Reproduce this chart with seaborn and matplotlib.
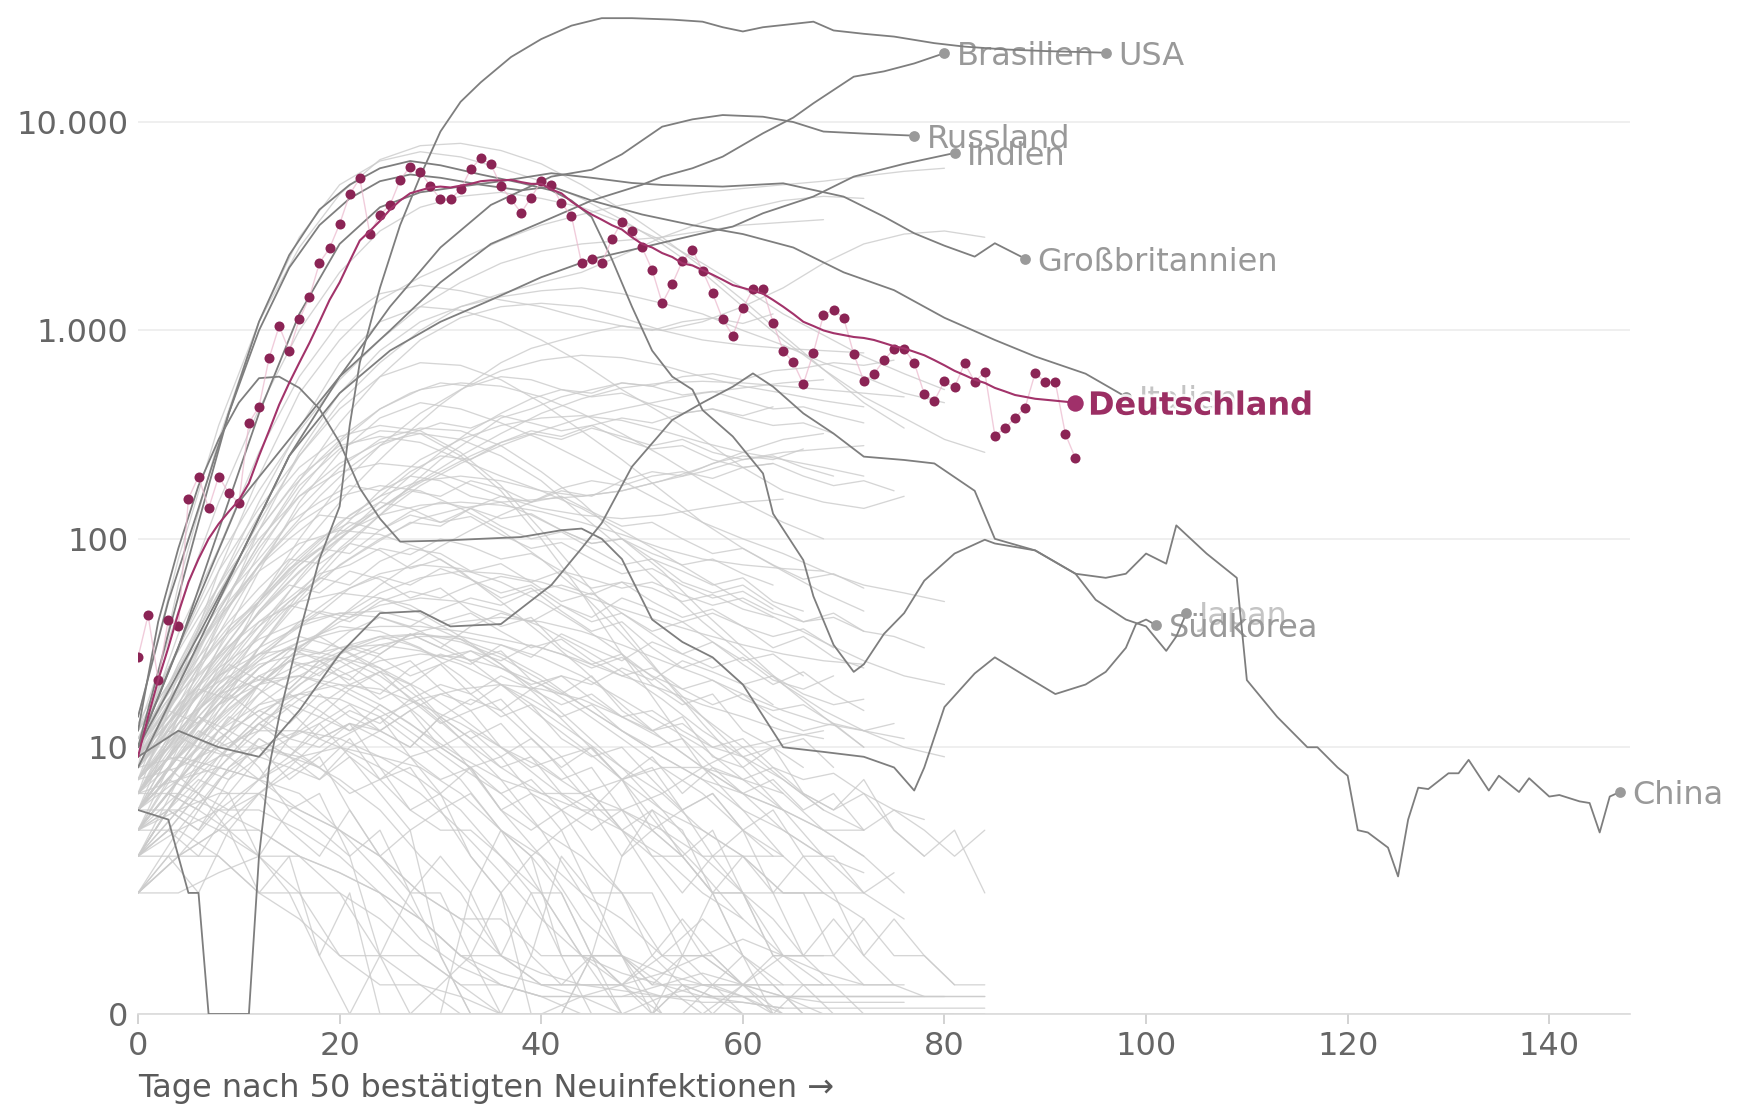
import pandas as pd
import matplotlib
matplotlib.use("Agg")
import matplotlib.pyplot as plt
import matplotlib.patheffects as pe
from matplotlib.ticker import NullLocator
import seaborn as sns

# ---------------------------------------------------------------
# Deutschland: tägliche Neuinfektionen und 7-Tage-Mittel
# ---------------------------------------------------------------
de_tage = list(range(0, 94))
de_taeglich = [27, 43, 21, 41, 38, 156, 199, 140, 199, 166,
               149, 360, 430, 735, 1050, 796, 1130, 1440, 2110, 2480,
               3240, 4500, 5370, 2900, 3580, 4000, 5270, 6110, 5780, 4930,
               4260, 4260, 4750, 5930, 6700, 6270, 4930, 4260, 3670, 4340,
               5200, 5000, 4075, 3540, 2100, 2190, 2100, 2735, 3325, 3010,
               2505, 1950, 1350, 1670, 2150, 2430, 1935, 1507, 1130, 944,
               1276, 1580, 1580, 1090, 800, 703, 553, 782, 1186, 1253,
               1150, 771, 572, 618, 721, 815, 815, 700, 495, 460,
               570, 533, 695, 568, 631, 313, 339, 381, 426, 625,
               564, 564, 318, 243]
de_mittel = [9, 14, 21, 30, 44, 62, 80, 100, 118, 135,
             153, 185, 250, 330, 440, 560, 700, 870, 1100, 1400,
             1700, 2150, 2700, 3000, 3350, 3800, 4200, 4550, 4700, 4850,
             4900, 4850, 4950, 5050, 5200, 5250, 5250, 5280, 5150, 5050,
             5050, 4750, 4550, 4150, 3850, 3600, 3400, 3200, 3050, 2800,
             2600, 2500, 2350, 2250, 2100, 2050, 1950, 1850, 1750, 1650,
             1600, 1550, 1500, 1400, 1300, 1200, 1100, 1050, 1000, 970,
             950, 930, 920, 900, 870, 840, 820, 790, 760, 720,
             680, 640, 610, 580, 560, 530, 510, 490, 480, 470,
             465, 460, 455, 450]

# ---------------------------------------------------------------
# Hervorgehobene Länder (7-Tage-Mittel)
# ---------------------------------------------------------------
usa_tage = [0, 3, 5, 6, 7, 11, 12, 13, 14, 16, 18, 20, 21, 22, 24, 26, 28, 30, 32,
            34, 37, 40, 43, 46, 49, 53, 56, 58, 60, 62, 64, 67, 69, 72, 75, 79, 82,
            86, 90, 93, 96]
usa_werte = [5, 4.5, 2, 2, 0, 0, 3, 8, 14, 35, 80, 143, 350, 700, 1600, 3200, 5500,
             9000, 12500, 15500, 20500, 25000, 29000, 31500, 31500, 31000, 30300,
             28500, 27200, 28500, 29200, 30300, 27500, 26500, 25700, 23900, 23000,
             22300, 21900, 21700, 21500]

bra_tage = [0, 5, 10, 15, 20, 25, 30, 35, 40, 45, 50, 52, 55, 58, 62, 65, 67, 71, 74, 77, 80]
bra_werte = [10, 40, 150, 300, 600, 1000, 1700, 2600, 3300, 4200, 5000, 5470, 6000,
             6820, 8830, 10500, 12300, 16500, 17500, 19100, 21400]

rus_tage = [0, 5, 10, 15, 20, 25, 30, 35, 41, 45, 48, 52, 55, 58, 62, 65, 68, 72, 77]
rus_werte = [10, 28, 80, 250, 600, 1300, 2500, 4000, 5470, 5900, 7000, 9500, 10300,
             10800, 10600, 10000, 9000, 8800, 8600]

ind_tage = [0, 5, 10, 15, 20, 25, 30, 35, 40, 45, 50, 56, 59, 62, 67, 71, 76, 81]
ind_werte = [8, 25, 80, 250, 500, 800, 1100, 1400, 1800, 2200, 2500, 2925, 3150,
             3650, 4390, 5470, 6300, 7100]

gbr_tage = [0, 4, 8, 12, 16, 20, 24, 28, 32, 36, 41, 45, 49, 52, 58, 64, 70, 74, 77,
            80, 83, 85, 88]
gbr_werte = [10, 30, 110, 400, 1200, 2600, 3900, 4600, 4900, 5200, 5680, 5400, 5100,
             4990, 4900, 5080, 4385, 3515, 2925, 2550, 2260, 2620, 2210]

ita_tage = [0, 3, 6, 9, 12, 15, 18, 21, 24, 27, 30, 34, 38, 41, 45, 50, 55, 60, 65,
            70, 75, 80, 85, 89, 94, 98]
ita_werte = [14, 50, 140, 400, 1000, 2000, 3200, 4300, 5200, 5600, 5400, 5000, 4700,
             4900, 4200, 3600, 3200, 2900, 2500, 1900, 1560, 1150, 900, 750, 620, 480]

jpn_tage = [0, 3, 6, 9, 12, 15, 18, 21, 24, 27, 30, 34, 38, 41, 43, 45, 47, 49, 51,
            53, 55, 56, 59, 62, 63, 66, 67, 69, 71, 72, 74, 76, 78, 81, 84, 85, 89,
            93, 95, 98, 100, 102, 103, 104]
jpn_werte = [10, 35, 120, 400, 1100, 2300, 3800, 5000, 6000, 6500, 6200, 5600, 5100,
             4700, 4200, 3500, 2200, 1300, 800, 600, 520, 415, 310, 206, 132, 79, 53,
             31, 23, 25, 35, 44, 63, 85, 99, 95, 88, 68, 51, 41, 38, 29, 34, 44]

kor_tage = [0, 2, 4, 6, 8, 10, 12, 14, 16, 18, 20, 22, 24, 26, 30, 34, 38, 42, 44,
            46, 48, 51, 54, 57, 60, 64, 68, 72, 75, 77, 78, 80, 83, 85, 88, 91, 94,
            96, 98, 99, 100, 101]
kor_werte = [12, 40, 90, 180, 300, 450, 590, 600, 530, 420, 290, 175, 125, 97, 98,
             100, 102, 110, 112, 100, 80, 41, 32, 27, 20, 10, 9.5, 9, 8, 6.2, 8,
             15.6, 22.6, 27, 22, 18, 20, 23, 30, 39, 41, 38.5]

chn_tage = [0, 4, 8, 12, 16, 20, 24, 28, 31, 36, 41, 44, 46, 49, 53, 56, 59, 61, 63,
            66, 69, 72, 76, 79, 83, 85, 89, 93, 96, 98, 100, 102, 103, 106, 109, 110,
            113, 116, 117, 119, 120, 121, 122, 124, 125, 126, 127, 128, 130, 131,
            132, 134, 135, 137, 138, 140, 141, 143, 144, 145, 146, 147]
chn_werte = [9, 12, 10, 9, 15, 28, 44, 45, 38, 39, 60, 90, 119, 222, 372, 450, 537,
             622, 537, 400, 320, 248, 239, 230, 170, 100, 88, 68, 65, 68, 85, 76,
             116, 85, 65, 21, 14, 10, 10, 8, 7.3, 4, 3.9, 3.3, 2.4, 4.5, 6.4, 6.3,
             7.5, 7.5, 8.7, 6.2, 7.3, 6.1, 7.1, 5.8, 5.9, 5.5, 5.4, 3.9, 5.8, 6.1]

# ---------------------------------------------------------------
# Übrige Länder (grau)
# ---------------------------------------------------------------
# Werte alle vier Tage
hg_tage = list(range(0, 89, 4))

grau_hoch = [
    [8, 60, 300, 1100, 2800, 5000, 6500, 7200, 6800, 6000, 5200, 4300, 3400, 2600, 1900, 1300, 900, 650, 480, 380, 300, 260],
    [12, 45, 150, 420, 1000, 1900, 3000, 3900, 4400, 4600, 4300, 3900, 3300, 2700, 2100, 1600, 1200, 950, 750, 620, 520],
    [6, 20, 70, 200, 500, 900, 1400, 1800, 2200, 2700, 3200, 3600, 4000, 4300, 4600, 4800, 5000, 5200, 5500, 5800, 6000],
    [9, 25, 55, 120, 250, 450, 700, 1000, 1300, 1500, 1700, 1900, 2300, 2800, 3300, 3800, 4200, 4400, 4300],
    [10, 35, 90, 260, 600, 1100, 1500, 1650, 1550, 1400, 1300, 1150, 1050, 1000, 1100, 1300, 1600, 2100, 2600, 2900, 3000, 2800],
    [7, 22, 60, 150, 340, 700, 1100, 1300, 1250, 1100, 900, 700, 520, 400, 300, 220, 170, 150, 140, 160],
    [5, 14, 40, 110, 260, 500, 800, 1100, 1300, 1450, 1550, 1600, 1500, 1350, 1200, 1000, 850, 700, 600, 500, 450],
    [11, 30, 80, 170, 330, 580, 900, 1300, 1700, 2100, 2400, 2600, 2700, 2800, 3000, 3200, 3300, 3400],
    [8, 18, 45, 95, 190, 360, 600, 900, 1150, 1300, 1350, 1300, 1150, 1000, 900, 850, 820, 800, 780],
    [14, 80, 350, 1100, 2500, 4500, 6600, 7700, 7900, 7300, 6300, 5000, 3800, 2800, 2000, 1400, 950, 650, 450, 340],
]

grau_mittel = [
    [6, 12, 30, 70, 150, 260, 380, 450, 420, 360, 300, 240, 190, 150, 120, 100, 85, 70, 60, 55, 50],
    [9, 20, 45, 90, 160, 230, 290, 320, 300, 250, 190, 130, 90, 60, 40, 28, 20, 15, 12, 10, 9],
    [4, 10, 22, 50, 100, 180, 280, 400, 520, 640, 720, 760, 740, 680, 600, 540, 500, 460, 430],
    [7, 15, 35, 75, 140, 220, 300, 340, 330, 280, 210, 150, 100, 70, 45, 30, 20, 14, 10],
    [10, 25, 60, 130, 220, 310, 350, 330, 260, 180, 110, 65, 38, 22, 13, 8, 5, 3, 2, 1.5],
    [5, 9, 18, 35, 65, 110, 170, 240, 300, 350, 380, 390, 370, 330, 290, 260, 240, 220, 200],
    [8, 20, 50, 110, 200, 280, 310, 290, 240, 200, 170, 160, 170, 190, 220, 260, 300, 320],
    [6, 14, 28, 50, 80, 120, 160, 190, 200, 190, 170, 140, 110, 85, 65, 50, 40, 32, 26, 22, 20],
    [12, 30, 70, 140, 250, 420, 600, 700, 680, 580, 450, 330, 240, 170, 120, 90, 70, 55, 45],
    [3, 7, 15, 30, 55, 90, 130, 180, 230, 280, 330, 380, 420, 460, 500, 530, 560, 580],
    [9, 18, 40, 75, 120, 160, 180, 170, 140, 110, 80, 55, 35, 22, 14, 9, 6, 4, 3],
    [5, 11, 24, 45, 75, 105, 130, 145, 150, 145, 135, 120, 105, 90, 80, 75, 72, 70],
    [7, 16, 38, 85, 170, 290, 420, 520, 560, 540, 480, 400, 320, 250, 190, 150, 120, 100],
    [11, 22, 42, 70, 95, 110, 105, 90, 70, 50, 35, 24, 16, 11, 8, 6, 5, 4, 4],
    [4, 8, 16, 30, 50, 75, 100, 125, 140, 150, 155, 160, 170, 190, 210, 240, 260, 270, 280],
    [8, 19, 45, 95, 180, 270, 330, 320, 250, 170, 100, 55, 28, 15, 8, 5, 3, 2],
    [6, 13, 25, 45, 70, 100, 140, 190, 250, 320, 400, 470, 530, 560, 570, 560, 540, 520, 500, 480],
    [10, 24, 55, 100, 160, 210, 230, 220, 190, 160, 140, 130, 125, 130, 140, 150, 155],
]

grau_niedrig = [
    [5, 9, 15, 24, 32, 38, 36, 30, 22, 15, 10, 6, 4, 2, 1, 0.5, 0.3, 0, 0],
    [7, 12, 20, 28, 34, 30, 24, 17, 11, 7, 4, 2, 1, 0, 0, 0.5, 1, 0.5],
    [3, 6, 10, 16, 22, 28, 33, 35, 33, 28, 22, 16, 12, 9, 7, 5, 4, 3, 2.5],
    [8, 14, 22, 30, 38, 44, 45, 40, 33, 25, 18, 12, 8, 5, 3, 2, 1, 1],
    [4, 7, 11, 15, 18, 20, 19, 16, 13, 10, 8, 6, 5, 4, 3, 3, 2, 2, 2],
    [6, 10, 17, 26, 40, 55, 68, 75, 72, 62, 50, 38, 28, 20, 14, 10, 7, 5],
    [2, 4, 7, 10, 12, 11, 9, 7, 5, 3, 2, 1, 0.5, 0, 0, 0, 0],
    [9, 15, 22, 28, 30, 27, 22, 16, 11, 8, 6, 5, 5, 6, 8, 10, 11, 12],
    [5, 8, 13, 20, 30, 42, 55, 65, 70, 68, 62, 54, 46, 40, 35, 31, 28, 26, 25],
    [3, 5, 8, 12, 17, 22, 26, 28, 27, 24, 20, 15, 11, 8, 6, 4, 3],
    [6, 11, 18, 25, 28, 26, 20, 14, 9, 5, 3, 1.5, 1, 0.5, 0, 0, 0],
    [4, 6, 9, 13, 18, 24, 30, 36, 40, 42, 40, 36, 31, 26, 22, 18, 15, 13, 12, 11],
    [10, 18, 28, 40, 50, 55, 52, 44, 34, 25, 17, 11, 7, 4, 2.5, 1.5, 1],
    [2, 3, 5, 7, 9, 10, 9, 8, 6, 4, 3, 2, 1.5, 1, 0.5, 0.5, 0],
    [7, 12, 19, 26, 32, 36, 38, 38, 36, 33, 30, 26, 22, 19, 16, 14, 12, 11],
    [5, 9, 14, 20, 25, 27, 24, 19, 14, 10, 7, 5, 4, 3, 2, 1.5],
    [3, 6, 12, 20, 30, 40, 48, 52, 50, 45, 38, 30, 23, 17, 12, 9, 7, 5, 4],
    [8, 13, 18, 21, 22, 19, 15, 11, 8, 6, 4, 3, 2, 1, 1, 0.5],
    [4, 7, 12, 18, 24, 30, 34, 35, 32, 27, 21, 16, 12, 9, 7, 6, 5],
    [6, 10, 16, 22, 27, 30, 31, 29, 25, 20, 15, 11, 8, 6, 4, 3, 2, 2, 1.5],
    [2, 3, 4, 6, 8, 11, 14, 17, 19, 20, 19, 17, 14, 11, 8, 6, 4, 3],
    [9, 16, 24, 33, 40, 44, 42, 36, 28, 20, 14, 10, 7, 5, 4, 3, 3],
    [5, 8, 12, 16, 18, 17, 14, 10, 7, 4, 2, 1, 0, 0, 0],
    [3, 5, 9, 14, 20, 26, 31, 34, 34, 31, 27, 22, 17, 13, 10, 7, 5, 4, 3, 2],
    [7, 11, 16, 20, 22, 20, 16, 12, 9, 7, 6, 6, 7, 8, 8, 7, 6],
]

grau_minimal = [
    [3, 4, 3, 2, 1.5, 1, 0.5, 0.5, 0.3, 0, 0, 0, 0, 0.3, 0.5, 0.3, 0],
    [5, 5, 4, 3, 2, 2, 1, 1, 0.5, 0.5, 0.3, 0.3, 0, 0],
    [2, 3, 4, 4, 3, 2.5, 2, 1.5, 1, 1, 0.5, 0.5, 0.5, 0.3, 0.3, 0.3, 0.3, 0.3, 0.3, 0.3, 0.3, 0.3],
    [6, 6, 5, 4, 3, 2, 1.5, 1, 0.5, 0, 0, 0.3, 0.5, 1, 1.5, 1, 0.5],
    [4, 5, 6, 6, 5, 4, 3, 2, 1.5, 1, 0.7, 0.5, 0.4, 0.3, 0.2, 0.2, 0.1, 0.1, 0.1, 0.1, 0.1, 0.1],
    [5, 7, 8, 7, 6, 4, 2.5, 1.5, 1, 0.5, 0.3, 0, 0],
    [3, 3, 3, 2, 2, 1, 1, 0.5, 0, 0, 0, 0, 0, 0, 0, 0, 0, 0, 0, 0, 0],
    [8, 9, 8, 7, 5, 4, 3, 2, 1.5, 1.5, 1, 1, 1, 0.7, 0.5, 0.5, 0.5, 0.5, 0.5, 0.5],
    [2, 2, 2.5, 3, 3, 2.5, 2, 1.5, 1, 0.7, 0.5, 0.5, 0.5, 0.7, 1, 1.2, 1, 0.7, 0.5],
    [6, 7, 9, 10, 9, 7, 5, 3, 2, 1, 0.5, 0.3, 0.3, 0.5, 0.7, 0.5, 0.3, 0.2, 0.2, 0.2],
    [4, 4, 5, 5, 4, 3, 2, 1.2, 0.8, 0.5, 0.3, 0.3, 0.3, 0.3, 0.3, 0.3, 0.3, 0.3, 0.3, 0.3, 0.3],
    [7, 8, 10, 12, 12, 10, 8, 6, 4, 2.5, 1.5, 1, 0.7, 0.5, 0.3, 0.2, 0.1],
]

# Werte alle drei Tage
hg_tage3 = list(range(0, 88, 3))

grau_zackig = [
    [6, 9, 14, 12, 20, 26, 22, 31, 28, 35, 30, 26, 29, 21, 18, 22, 15, 12, 14, 9, 8, 10, 6, 5, 7, 4, 3, 4, 2],
    [10, 16, 25, 38, 50, 72, 90, 85, 110, 130, 120, 140, 115, 100, 108, 90, 75, 80, 62, 55, 60, 48, 40, 44, 36],
    [4, 5, 8, 7, 11, 9, 13, 16, 12, 10, 14, 11, 8, 9, 6, 5, 7, 4, 3, 4, 2, 2, 1, 1.5, 1, 0.5],
    [8, 13, 21, 35, 48, 70, 95, 130, 160, 210, 250, 240, 290, 320, 300, 340, 310, 280, 300, 260, 240, 250, 220, 200],
    [5, 7, 6, 10, 13, 11, 16, 20, 18, 24, 28, 25, 31, 27, 35, 30, 26, 32, 28, 24, 27, 21, 19, 22],
    [12, 20, 34, 55, 80, 120, 150, 180, 170, 200, 190, 160, 150, 130, 110, 95, 100, 80, 70, 60, 65, 50, 45],
    [3, 4, 3, 5, 6, 4, 3, 5, 3, 2, 3, 2, 1, 2, 1, 1, 0.5, 1, 0.5, 0, 0.5, 0, 0, 0, 0],
    [7, 11, 18, 26, 40, 52, 68, 75, 90, 84, 100, 92, 80, 85, 70, 58, 62, 50, 42, 46, 38, 30, 34, 27, 24],
    [9, 14, 22, 30, 44, 60, 55, 70, 64, 52, 58, 45, 38, 42, 30, 25, 28, 20, 16, 18, 12, 10, 11, 8],
    [5, 8, 13, 20, 30, 46, 66, 95, 130, 180, 240, 300, 380, 420, 480, 520, 560, 540, 600, 620, 580, 640, 660, 700, 680, 720],
    [6, 9, 8, 12, 15, 13, 18, 14, 12, 15, 10, 8, 9, 6, 5, 6, 4, 3, 3, 2, 2, 1, 1, 0.5],
    [11, 18, 30, 48, 75, 110, 160, 220, 280, 320, 360, 340, 390, 360, 330, 350, 300, 270, 280, 240, 220, 230, 200, 180, 190, 170],
    [4, 6, 9, 14, 12, 18, 24, 21, 28, 35, 30, 38, 44, 40, 48, 42, 52, 46, 40, 44, 38, 34, 37, 30],
    [8, 12, 10, 16, 22, 19, 26, 30, 27, 22, 25, 18, 14, 16, 11, 9, 10, 7, 5, 6, 4, 3],
    [2, 3, 5, 4, 6, 8, 7, 10, 12, 10, 14, 17, 15, 19, 22, 20, 24, 21, 26, 23, 20, 22, 18, 16, 17],
    [7, 10, 16, 24, 35, 50, 65, 60, 78, 90, 85, 70, 76, 62, 50, 55, 44, 36, 40, 32, 26, 28, 22],
    [5, 8, 12, 10, 14, 18, 15, 12, 14, 9, 7, 8, 5, 4, 5, 3, 2, 2, 1, 1, 0.5, 0.5, 0, 0, 0, 0, 0, 0, 0],
    [13, 24, 42, 70, 110, 170, 240, 330, 420, 500, 560, 540, 600, 580, 520, 480, 500, 440, 400, 420, 380, 350, 360, 320],
    [6, 9, 13, 18, 24, 30, 28, 36, 42, 38, 46, 52, 48, 56, 60, 54, 62, 58, 50, 54, 46, 42],
    [4, 5, 7, 6, 9, 11, 10, 13, 11, 9, 10, 8, 6, 7, 5, 4, 5, 3, 2, 3, 2, 1.5, 1, 1, 0.5, 0.5, 0.3],
    [9, 15, 24, 36, 52, 75, 100, 120, 110, 135, 150, 140, 125, 132, 110, 95, 100, 85, 75, 80, 68, 60],
    [3, 5, 8, 12, 18, 26, 35, 46, 60, 75, 92, 110, 130, 150, 170, 160, 190, 210, 200, 230, 250, 240, 270],
    [8, 13, 19, 17, 24, 30, 26, 20, 23, 17, 13, 15, 10, 8, 9, 6, 4, 5, 3, 2, 2, 1, 1],
    [6, 10, 16, 25, 38, 56, 80, 110, 150, 200, 260, 330, 400, 470, 520, 500, 560, 540, 490, 510, 460, 420, 430, 390, 360],
    [5, 7, 10, 9, 13, 16, 14, 19, 23, 20, 25, 29, 26, 31, 28, 24, 27, 22, 19, 21, 17, 15, 16, 13, 12, 13],
    [10, 17, 27, 40, 58, 80, 76, 95, 88, 72, 80, 64, 52, 58, 45, 36, 40, 30, 24, 27, 20, 16],
    [3, 4, 6, 5, 7, 9, 8, 6, 7, 5, 4, 4, 3, 2, 2, 1, 1, 0.5, 0.5, 0.3, 0, 0, 0, 0, 0],
    [7, 12, 20, 32, 50, 78, 115, 170, 240, 330, 440, 560, 700, 820, 900, 980, 1050, 1000, 1100, 1150, 1080, 1200],
    [12, 20, 32, 50, 74, 100, 130, 125, 150, 140, 120, 128, 105, 90, 96, 80, 68, 72, 60, 52, 56, 46],
    [4, 6, 5, 8, 10, 9, 12, 15, 13, 17, 20, 18, 22, 19, 16, 18, 14, 12, 13, 10, 9, 10, 8],
]

grau_null = [
    [5, 8, 6, 4, 2, 3, 1, 0, 1, 2, 1, 0, 0, 1, 3, 2, 1, 0, 0, 0.5, 1, 0.5, 0, 0, 0],
    [7, 10, 14, 11, 8, 5, 6, 3, 1, 0, 0, 2, 4, 3, 1, 0, 0, 0, 1, 2, 1, 0],
    [4, 6, 9, 12, 10, 7, 9, 5, 3, 4, 1, 0, 0, 0, 0, 1, 0, 0, 0, 0, 0, 0, 0, 0, 0, 0, 0, 0, 0],
    [9, 13, 18, 22, 19, 15, 11, 13, 8, 5, 6, 3, 2, 0, 0, 1, 3, 5, 4, 2, 1],
    [3, 5, 4, 6, 3, 2, 1, 2, 0, 0, 0.5, 1, 0, 0, 0, 0, 0, 0, 0.5, 0.5, 0.3, 0, 0, 0],
]

grau_weitere = [
    [6, 8, 11, 9, 13, 10, 8, 11, 7, 9, 6, 8, 5, 6, 4, 5, 3, 4, 3, 2, 3, 2, 2, 1, 1.5, 1, 1, 0.5, 0.5],
    [4, 7, 11, 16, 22, 19, 26, 22, 17, 20, 14, 11, 13, 9, 7, 8, 5, 4, 5, 3, 4, 2, 3, 2, 1, 1.5, 1, 0.5],
    [8, 12, 18, 25, 21, 29, 34, 28, 23, 26, 19, 15, 17, 12, 9, 10, 7, 8, 5, 6, 4, 5, 3, 3, 2, 2.5],
    [3, 4, 6, 9, 7, 11, 14, 12, 16, 13, 10, 12, 9, 11, 8, 10, 7, 9, 6, 8, 6, 7, 5, 6, 4, 5, 4, 3, 4],
    [5, 9, 15, 23, 34, 48, 44, 58, 66, 60, 72, 64, 55, 60, 48, 40, 44, 35, 28, 32, 25, 20, 23, 18, 15],
    [10, 15, 13, 18, 14, 11, 13, 9, 7, 8, 5, 6, 4, 3, 4, 2, 2, 1, 1.5, 1, 0.5, 1, 0.5, 0.5, 0],
    [7, 10, 15, 21, 28, 36, 45, 42, 52, 48, 40, 44, 36, 30, 33, 26, 22, 24, 19, 16, 18, 14, 12, 13, 10],
    [4, 6, 5, 8, 11, 9, 7, 9, 6, 4, 5, 3, 2, 3, 2, 1, 1, 0.5, 1, 0.5, 0, 0, 0.5, 0, 0, 0, 0, 0],
    [9, 14, 20, 28, 38, 50, 64, 80, 98, 120, 115, 140, 160, 150, 175, 190, 180, 200, 210, 195, 220, 230],
    [6, 9, 14, 20, 27, 35, 44, 40, 50, 56, 52, 60, 66, 62, 70, 64, 58, 62, 54, 48, 52, 44, 40, 42, 36, 34, 30],
    [3, 5, 4, 7, 9, 8, 11, 13, 12, 15, 18, 16, 20, 17, 14, 16, 12, 10, 11, 8, 7, 8, 6, 5, 6, 4, 3],
    [11, 17, 25, 36, 50, 68, 90, 115, 140, 170, 160, 190, 175, 150, 160, 135, 115, 120, 100, 85, 90, 75, 64, 68, 58],
    [5, 7, 11, 15, 20, 26, 24, 30, 34, 31, 27, 29, 24, 20, 22, 17, 14, 15, 12, 10, 11, 8, 7, 7.5, 6, 5, 4.5],
    [2, 3, 2, 4, 3, 5, 4, 3, 4, 2, 2, 1, 2, 1, 0.5, 1, 0.5, 0, 0.5, 0.3, 0.3, 0.3, 0.3, 0.3, 0.3, 0.3, 0.3, 0.3, 0.3],
    [8, 13, 20, 30, 44, 62, 85, 110, 140, 175, 210, 250, 290, 330, 310, 350, 380, 360, 400, 420, 390, 430],
]

y_ticks = [0, 10, 100, 1000, 10000]
y_tick_labels = ["0", "10", "100", "1.000", "10.000"]
x_ticks = [0, 20, 40, 60, 80, 100, 120, 140]

# ---------------------------------------------------------------
# Daten in lange Tabellen bringen
# ---------------------------------------------------------------
hg_rows = []
gruppen = [("h", hg_tage, grau_hoch), ("m", hg_tage, grau_mittel),
           ("n", hg_tage, grau_niedrig), ("x", hg_tage, grau_minimal),
           ("z", hg_tage3, grau_zackig), ("o", hg_tage3, grau_null),
           ("w", hg_tage3, grau_weitere)]
for gname, tage, gruppe in gruppen:
    for i, werte in enumerate(gruppe):
        for t, w in zip(tage, werte):
            hg_rows.append((f"{gname}{i}", t, w))
df_hg = pd.DataFrame(hg_rows, columns=["land", "tag", "wert"])

hervorgehoben = {
    "USA": (usa_tage, usa_werte),
    "Brasilien": (bra_tage, bra_werte),
    "Russland": (rus_tage, rus_werte),
    "Indien": (ind_tage, ind_werte),
    "Großbritannien": (gbr_tage, gbr_werte),
    "Italien": (ita_tage, ita_werte),
    "Japan": (jpn_tage, jpn_werte),
    "Südkorea": (kor_tage, kor_werte),
    "China": (chn_tage, chn_werte),
}
df_dk = pd.concat(
    [pd.DataFrame({"land": k, "tag": t, "wert": w}) for k, (t, w) in hervorgehoben.items()],
    ignore_index=True,
)
df_end = df_dk.groupby("land", sort=False).tail(1)

# ---------------------------------------------------------------
# Zeichnen
# ---------------------------------------------------------------
sns.set_theme(style="white")
plt.rcParams["font.family"] = ["DejaVu Sans"]

fig = plt.figure(figsize=(17.56, 11.07), dpi=100)
ax = fig.add_axes([0.0786, 0.084, 0.8496, 0.916])
ax.set_yscale("symlog", linthresh=1, linscale=0.252)

sns.lineplot(data=df_hg, x="tag", y="wert", units="land", estimator=None,
             color="#cbcbcb", lw=0.95, alpha=0.8, ax=ax, zorder=1, legend=False)
sns.lineplot(data=df_dk, x="tag", y="wert", units="land", estimator=None,
             color="#7e7e7e", lw=1.3, ax=ax, zorder=3, legend=False)

# Deutschland
sns.lineplot(x=de_tage, y=de_taeglich, color="#ebb7cc", lw=1.0, alpha=0.7,
             ax=ax, zorder=4, estimator=None)
sns.scatterplot(x=de_tage, y=de_taeglich, color="#8b2455", s=52, linewidth=0,
                ax=ax, zorder=5)
sns.lineplot(x=de_tage, y=de_mittel, color="#a2336a", lw=1.5, ax=ax, zorder=6,
             estimator=None)

# Endpunkte
sns.scatterplot(data=df_end, x="tag", y="wert", color="#9a9a9a", s=60,
                linewidth=0, ax=ax, zorder=6, legend=False)
sns.scatterplot(x=[de_tage[-1]], y=[de_mittel[-1]], color="#a0306a", s=140,
                linewidth=0, ax=ax, zorder=7)

schwach = {"Italien", "Japan"}
for _, r in df_end.iterrows():
    name = r["land"]
    ax.annotate(name, (r["tag"], r["wert"]), xytext=(9, 0),
                textcoords="offset points", ha="left", va="center_baseline",
                fontsize=23, color="#c4c4c4" if name in schwach else "#999999",
                zorder=2.5 if name in schwach else 2.8)

txt = ax.annotate("Deutschland", (de_tage[-1], de_mittel[-1]), xytext=(9, 0),
                  textcoords="offset points", ha="left", va="center_baseline",
                  fontsize=23, fontweight="bold", color="#9b2e63", zorder=9)
txt.set_path_effects([pe.withStroke(linewidth=4, foreground="white", alpha=0.85)])

# Achsen
ax.set_xlim(0, 148)
ax.set_ylim(0, 38500)
ax.set_yticks(y_ticks)
ax.set_yticklabels(y_tick_labels)
ax.yaxis.set_minor_locator(NullLocator())
ax.set_xticks(x_ticks)
ax.set_xticklabels([str(v) for v in x_ticks])
ax.xaxis.set_minor_locator(NullLocator())
ax.tick_params(axis="x", bottom=True, length=7, width=1.1, color="#c6c6c6",
               pad=5, labelsize=23, labelcolor="#666666", direction="out")
ax.tick_params(axis="y", left=False, length=0, pad=7, labelsize=23,
               labelcolor="#666666")
ax.set_axisbelow(True)
ax.grid(axis="y", color="#ececec", lw=1.2)
ax.grid(axis="x", visible=False)
for s in ["top", "right", "left"]:
    ax.spines[s].set_visible(False)
ax.spines["bottom"].set_color("#dadada")
ax.spines["bottom"].set_linewidth(1.2)
ax.set_xlabel("")
ax.set_ylabel("")

fig.text(0.0786, 0.0163, "Tage nach 50 bestätigten Neuinfektionen →",
         ha="left", va="center", fontsize=23, color="#5a5a5a")

fig.savefig("out.png", dpi=100)
